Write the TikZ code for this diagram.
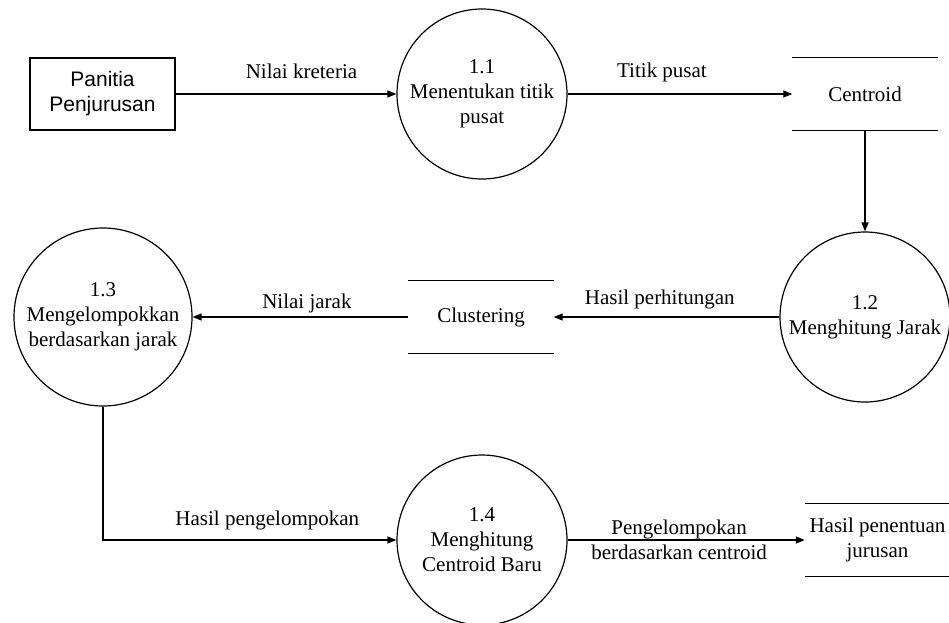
\documentclass[tikz,border=0pt]{standalone}
\usepackage{fontspec}
\setmainfont{Liberation Serif}
\newfontfamily\arialfont{Liberation Sans}
\usetikzlibrary{arrows.meta}
\begin{document}
\begin{tikzpicture}[x=1pt,y=-1pt,font=\fontsize{21}{25}\selectfont,
  proses/.style={draw,circle,line width=1.2pt,minimum size=170pt,inner sep=0pt,align=center},
  entitas/.style={draw,line width=1.3pt,minimum width=145pt,minimum height=72pt,align=center,font=\arialfont\fontsize{21}{25}\selectfont},
  simpan/.style={minimum width=145pt,minimum height=72pt,inner sep=0pt,align=center},
  alir/.style={line width=1.3pt,-{Triangle[length=9pt,width=7pt]}}]
\useasboundingbox (0,0) rectangle (949,622);
\node[entitas] (panitia) at (102.5,94) {Panitia\\Penjurusan};
\node[proses] (p11) at (482,94) {1.1\\Menentukan titik\\pusat};
\node[simpan] (centroid) at (865,94) {Centroid};
\node[proses] (p12) at (865,317) {1.2\\Menghitung Jarak};
\node[simpan] (clustering) at (481,317) {Clustering};
\node[proses,minimum size=178pt] (p13) at (103,317) {1.3\\Mengelompokkan\\berdasarkan jarak};
\node[proses] (p14) at (482,540) {1.4\\Menghitung\\Centroid Baru};
\node[simpan] (hasil) at (877.5,540) {Hasil penentuan\\jurusan};
\foreach \s in {centroid,clustering,hasil}
  \draw[line width=1.3pt] (\s.north west) -- (\s.north east) (\s.south west) -- (\s.south east);
\draw[alir] (panitia) -- node[pos=0.57,above=11pt] {Nilai kreteria} (p11);
\draw[alir] (p11) -- node[pos=0.42,above=8pt] {Titik pusat} (centroid);
\draw[alir] (centroid) -- (p12);
\draw[alir] (p12) -- node[pos=0.53,above=4pt] {Hasil perhitungan} (clustering);
\draw[alir] (clustering) -- node[pos=0.47,above=0pt] {Nilai jarak} (p13);
\draw[alir] (p13) |- node[pos=0.78,above=6pt] {Hasil pengelompokan} (p14);
\draw[alir] (p14) -- node[pos=0.47,align=center] {Pengelompokan\\berdasarkan centroid} (hasil);
\end{tikzpicture}
\end{document}
